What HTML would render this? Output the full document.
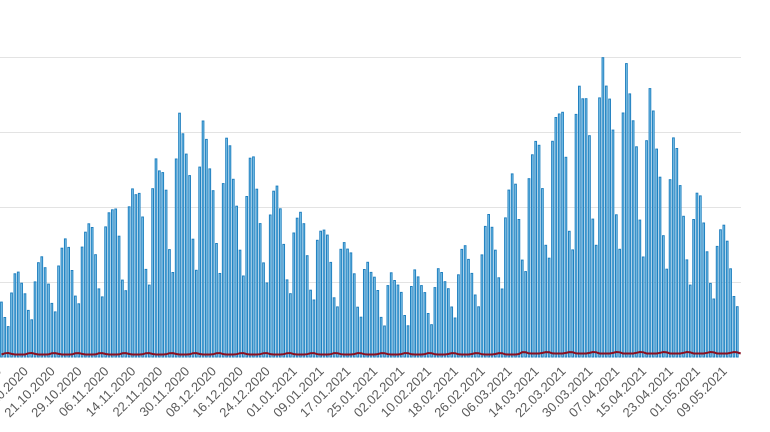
<!DOCTYPE html>
<html><head><meta charset="utf-8"><style>
html,body{margin:0;padding:0;background:#fff;width:770px;height:432px;overflow:hidden}
text{font-family:"Liberation Sans",sans-serif;font-size:13px;fill:#5a5a5a}
</style></head><body>
<svg id="s" width="770" height="432" xmlns="http://www.w3.org/2000/svg">
<g stroke="#e3e3e3" stroke-width="1">
<line x1="0" x2="741" y1="57.5" y2="57.5"/><line x1="0" x2="741" y1="132.5" y2="132.5"/>
<line x1="0" x2="741" y1="207.5" y2="207.5"/><line x1="0" x2="741" y1="282.5" y2="282.5"/>
</g>
<g id="bars"></g><g id="lbl"></g>
</svg>
<script>
(function(){
var env=[[0,280],[40,255],[100,205],[150,160],[180,108],[200,120],[250,150],[290,200],[340,230],[380,272],[440,268],[480,225],[520,150],[560,85],[600,48],[625,62],[650,90],[680,150],[700,195],[720,220],[741,235]];
function E(x){for(var k=0;k<env.length-1;k++){if(x<=env[k+1][0]){var a=env[k],b=env[k+1];return a[1]+(b[1]-a[1])*(x-a[0])/(b[0]-a[0]);}}return 240;}
var wk=[1,0.98,0.9,0.75,0.5,0.4,0.85];
var base=357,sp=3.36,h='';
var start=new Date(2020,9,5);
for(var i=0;i<230;i++){var x=i*sp;if(x>739)break;
var ty=E(x);var H=(base-ty)*wk[(i+3)%7]*(0.95+0.05*Math.sin(i*1.7));
h+='<rect x="'+(x+0.6).toFixed(2)+'" y="'+(base-H).toFixed(1)+'" width="1.7" height="'+H.toFixed(1)+'" fill="#8fd0f0" stroke="#1f7fbf" stroke-width="1"/>';}
var p='';for(var i=0;i<230;i++){var x=i*sp+1.5;if(x>741)break;var y=355-(x>520?1.5:0.5)-1.5*Math.max(0,Math.sin(i*0.9));p+=(i?'L':'M')+x.toFixed(1)+' '+y.toFixed(1);}
h+='<path d="'+p+'" fill="none" stroke="#8a1020" stroke-width="2"/>';
document.getElementById('bars').innerHTML=h;
var l='';
for(var i=0;i<230;i+=8){var d=new Date(start.getTime()+i*864e5+36e5);var x=i*sp+2;if(x>745)break;
var s=('0'+d.getDate()).slice(-2)+'.'+('0'+(d.getMonth()+1)).slice(-2)+'.'+d.getFullYear();
l+='<text text-anchor="end" transform="translate('+x.toFixed(1)+',372) rotate(-45)">'+s+'</text>';}
document.getElementById('lbl').innerHTML=l;
})();
</script>
</body></html>
